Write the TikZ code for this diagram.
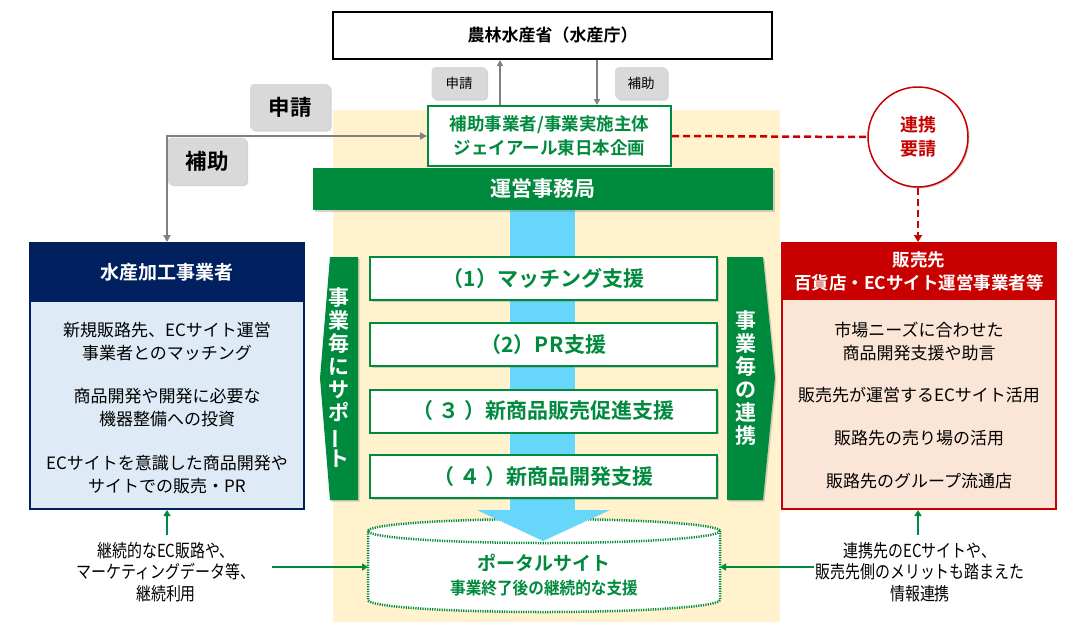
\documentclass[tikz,border=0pt]{standalone}
\usepackage{fontspec}
\setmainfont{Noto Sans CJK JP}[BoldFont={Noto Sans CJK JP Bold}]
\usetikzlibrary{shadows,arrows.meta,calc}
\definecolor{gr}{RGB}{0,138,62}
\definecolor{navy}{RGB}{0,32,96}
\definecolor{rd}{RGB}{200,0,0}
\definecolor{lb}{RGB}{222,235,247}
\definecolor{pk}{RGB}{251,229,214}
\definecolor{yl}{RGB}{255,242,204}
\definecolor{cy}{RGB}{102,214,250}
\definecolor{lg}{RGB}{217,217,217}
\definecolor{gy}{RGB}{128,128,128}
\newcommand\fs[2]{\fontsize{#1}{#2}\selectfont}
\newcommand\cond[1]{\scalebox{0.83}[1]{#1}}
\newcommand\gap{\hspace{5pt}}
\begin{document}
\begin{tikzpicture}[x=1pt,y=-1pt,
  shd/.style={drop shadow={shadow xshift=1.5pt,shadow yshift=-1.5pt,opacity=0.35}},
  lab/.style={rounded corners=4pt,fill=lg,shd,inner sep=0pt},
  supbox/.style={draw=gr,line width=2,fill=white,minimum width=347,minimum height=43,inner sep=0pt,shd,font=\bfseries\fs{21}{24}\color{gr}},
  body/.style={align=center,font=\fs{17}{23}},
  garrow/.style={draw=gy,line width=1.5,-{Triangle[length=6pt,width=6pt]}},
  grarrow/.style={draw=gr,line width=2,-{Triangle[length=6pt,width=7pt]}},
  rdash/.style={draw=rd,line width=2.5,dash pattern=on 7pt off 4pt},
  vtext/.style={align=center,text=white,font=\bfseries\fs{21}{23}},
  note/.style={align=center,font=\fs{18}{21.5}}
]
\useasboundingbox (0,0) rectangle (1065,627);
% background band
\fill[yl] (333,110) rectangle (780,622);
% blue arrow shaft
\fill[cy] (510,205) rectangle (575,511);

% top ministry
\node[draw=black,line width=2,fill=white,minimum width=439,minimum height=47,inner sep=0pt,font=\bfseries\fs{17}{20}] (maff) at (552.5,35.5) {農林水産省（水産庁）};
% small labels
\node[lab,minimum width=55,minimum height=32,font=\fs{13.5}{16}] (sl1) at (459,83) {申請};
\node[lab,minimum width=52,minimum height=32,font=\fs{13.5}{16}] (sl2) at (641,83) {補助};
% big labels
\node[lab,minimum width=80,minimum height=46,font=\bfseries\fs{21.5}{24}] (bl1) at (290,107) {申請};
\node[lab,minimum width=79,minimum height=47,font=\bfseries\fs{21.5}{24}] (bl2) at (207,161) {補助};

% main operator
\node[draw=gr,line width=2,fill=white,minimum width=243,minimum height=60,inner sep=0pt,align=center,text=gr,font=\bfseries\fs{17.5}{24}] (hojo) at (549.5,136) {補助事業者/事業実施主体\\ジェイアール東日本企画};
\coordinate (xa) at (500,0);
\coordinate (xb) at (597,0);
\draw[garrow] (hojo.north -| xa) -- (maff.south -| xa);
\draw[garrow] (maff.south -| xb) -- (hojo.north -| xb);

% secretariat bar
\node[fill=gr,minimum width=460,minimum height=42,inner sep=0pt,shd,text=white,font=\bfseries\fs{21}{24}] (jimu) at (543,189) {運営事務局};

% support boxes
\node[supbox] (s1) at (543.5,278.5) {（1）マッチング支援};
\node[supbox] (s2) at (543.5,344.5) {（2）P\hspace{1pt}R\hspace{1pt}支援};
\node[supbox] (s3) at (543.5,411) {（\gap３\gap）新商品販売促進支援};
\node[supbox] (s4) at (543.5,476.5) {（\gap４\gap）新商品開発支援};

% side green arrows
\fill[gr,shd] (330,257) -- (358,257) -- (358,500) -- (330,500) -- (320,378) -- cycle;
\node[vtext] (vl) at (339,378) {事\\業\\毎\\に\\サ\\ポ\\\rotatebox[origin=c]{90}{ー}\\ト};
\fill[gr,shd] (727,257) -- (763,257) -- (775,378) -- (763,500) -- (727,500) -- cycle;
\node[vtext] (vr) at (746,378) {事\\業\\毎\\の\\連\\携};

% left box
\node[draw=navy,line width=2,fill=lb,minimum width=274,minimum height=266,inner sep=0pt] (lbox) at (167,376) {};
\fill[navy] (30,243) rectangle (304,302);
\node[text=white,font=\bfseries\fs{19}{22}] (lhead) at (167,272.5) {水産加工事業者};
\node[body] (l1) at (167,341.5) {新規販路先、ECサイト運営\\事業者とのマッチング};
\node[body] (l2) at (167,407.5) {商品開発や開発に必要な\\機器整備への投資};
\node[body] (l3) at (167,474.5) {ECサイトを意識した商品開発や\\サイトでの販売・PR};

% right box
\node[draw=rd,line width=2,fill=pk,minimum width=274,minimum height=266,inner sep=0pt] (rbox) at (919,376) {};
\fill[rd] (782,243) rectangle (1056,300);
\node[text=white,align=center,font=\bfseries\fs{17.5}{23}] (rhead) at (919,271.5) {販売先\\百貨店・ECサイト運営事業者等};
\node[body] (r1) at (919,341.5) {市場ニーズに合わせた\\商品開発支援や助言};
\node[body] (r2) at (919,395) {販売先が運営するECサイト活用};
\node[body] (r3) at (919,438) {販路先の売り場の活用};
\node[body] (r4) at (919,481) {販路先のグループ流通店};

% circle
\node[circle,draw=rd,line width=1.5,fill=white,minimum size=100,inner sep=0pt,shd,align=center,text=rd,font=\bfseries\fs{18}{24}] (circ) at (918,137) {連携\\要請};
\draw[rdash] (hojo.east) -- (circ.west);
\draw[rdash,-{Triangle[length=7pt,width=8pt]}] (circ.south) -- (rbox.north -| circ.south);

% gray apply/subsidy line
\draw[gy,line width=2,{Triangle[length=7pt,width=7pt]}-{Triangle[length=7pt,width=7pt]}] (lbox.north) |- (hojo.west);

% cylinder
\fill[white] (368,531) -- (368,600) arc[start angle=180,end angle=0,x radius=176,y radius=12] -- (720,531) -- cycle;
\fill[white] (544,531) ellipse[x radius=176,y radius=12];
\draw[gr,line width=2.5,dash pattern=on 1.2pt off 1.2pt] (368,531) -- (368,600) arc[start angle=180,end angle=0,x radius=176,y radius=12] -- (720,531);
\draw[gr,line width=2.5,dash pattern=on 1.2pt off 1.2pt] (544,531) ellipse[x radius=176,y radius=12];
\coordinate (cylw) at (368,567);
\coordinate (cyle) at (720,567);
% blue arrow head
\fill[cy] (477,510) -- (610,510) -- (543,541) -- cycle;
\node[text=gr,font=\bfseries\fs{19}{22}] (portal) at (544,563) {ポータルサイト};
\node[text=gr,font=\bfseries\fs{17}{20}] (portal2) at (544,588) {\scalebox{0.92}[1]{事業終了後の継続的な支援}};

% bottom notes
\node[note] (ln) at (166,572) {\cond{継続的なEC販路や、}\\\cond{マーケティングデータ等、}\\\cond{継続利用}};
\node[note] (rn) at (920,572) {\cond{連携先のECサイトや、}\\\cond{販売先側のメリットも踏まえた}\\\cond{情報連携}};
\coordinate (lup) at (167,535);
\coordinate (rup) at (918,535);
\coordinate (lst) at (272,567);
\coordinate (rst) at (814,567);
\draw[grarrow] (lup) -- (lbox.south);
\draw[grarrow] (rup) -- (rbox.south -| rup);
\draw[grarrow] (lst) -- (cylw);
\draw[grarrow] (rst) -- (cyle);
\end{tikzpicture}
\end{document}
